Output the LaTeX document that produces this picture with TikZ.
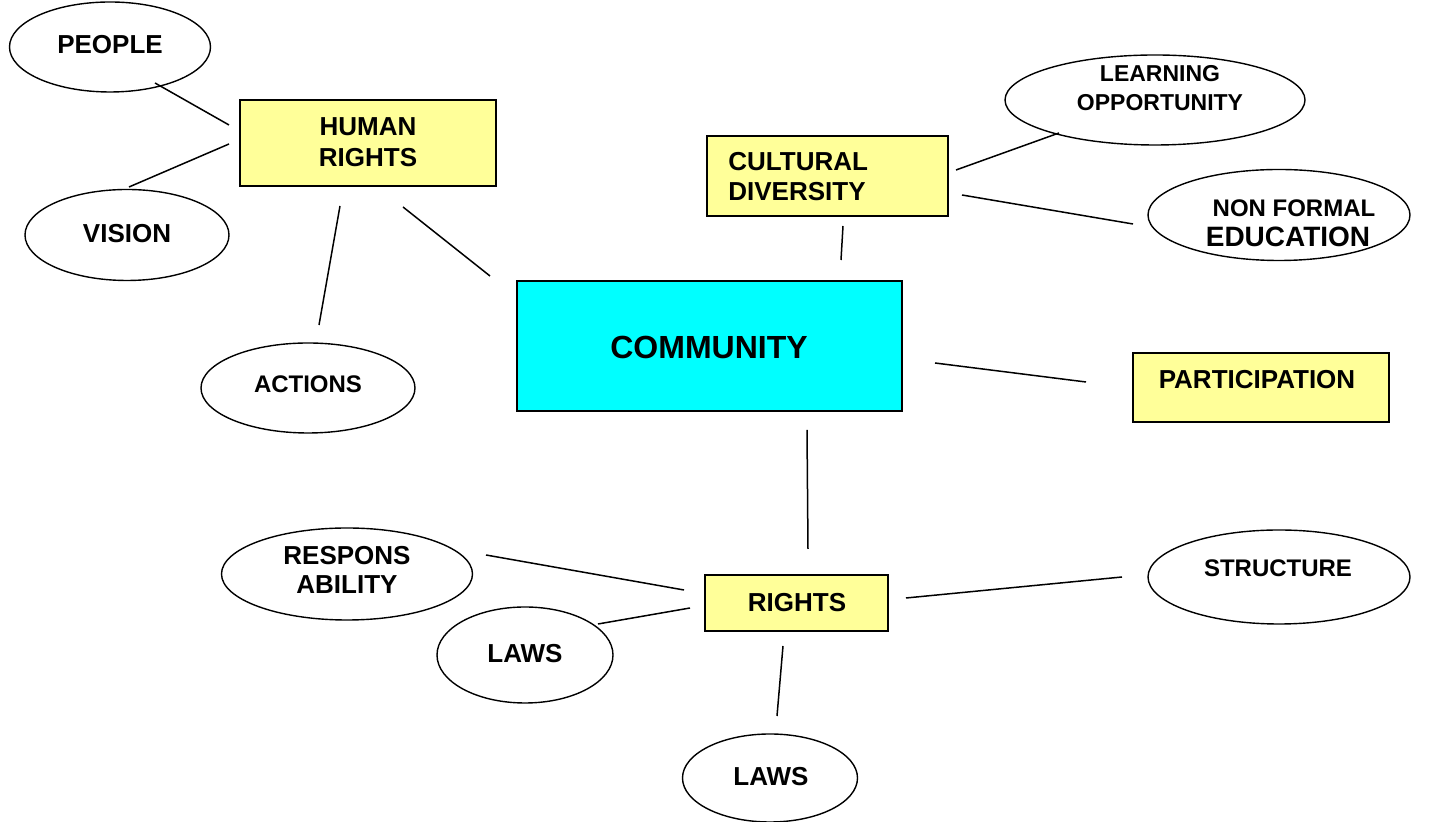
\documentclass[tikz,border=0pt]{standalone}
\usepackage{fontspec}
\setmainfont{Liberation Sans}
\usetikzlibrary{shapes.geometric}
\definecolor{boxyellow}{HTML}{FFFF99}
\definecolor{boxcyan}{HTML}{00FFFF}
\tikzset{
  oval/.style={draw=black, line width=0.7pt, ellipse, inner sep=0pt, outer sep=0pt},
  ybox/.style={draw=black, line width=0.8pt, rectangle, fill=boxyellow, inner sep=0pt, outer sep=0pt},
  cbox/.style={draw=black, line width=0.8pt, rectangle, fill=boxcyan, inner sep=0pt, outer sep=0pt},
  lbl/.style={inner sep=0pt, font=\bfseries\fontsize{13}{15.5}\selectfont, align=center},
  conn/.style={draw=black, line width=0.75pt}
}
\begin{document}
\begin{tikzpicture}[x=0.5pt, y=-0.5pt]
\useasboundingbox (0,0) rectangle (1453,822);
% shapes
\node[oval, minimum width=100.5pt, minimum height=45pt] (people) at (110,47) {};
\node[oval, minimum width=102pt, minimum height=45.5pt] (vision) at (127,235) {};
\node[oval, minimum width=107pt, minimum height=45pt] (actions) at (308,388) {};
\node[oval, minimum width=150pt, minimum height=45pt] (learn) at (1155,100) {};
\node[oval, minimum width=131pt, minimum height=45.5pt] (nonformal) at (1279,215) {};
\node[oval, minimum width=125.5pt, minimum height=46pt] (respons) at (347,574) {};
\node[oval, minimum width=88pt, minimum height=48pt] (lawsa) at (525,655) {};
\node[oval, minimum width=131pt, minimum height=47pt] (structure) at (1279,577) {};
\node[oval, minimum width=87.5pt, minimum height=44pt] (lawsb) at (770,778) {};
\node[ybox, minimum width=128pt, minimum height=43pt] (hr) at (368,143) {};
\node[ybox, minimum width=120.5pt, minimum height=40pt] (cd) at (827.5,176) {};
\node[cbox, minimum width=192.5pt, minimum height=65pt] (comm) at (709.5,346) {};
\node[ybox, minimum width=128pt, minimum height=34.5pt] (part) at (1261,387.5) {};
\node[ybox, minimum width=91.5pt, minimum height=28pt] (rights) at (796.5,603) {};
% texts
\node[lbl] (tpeople) at (110,45) {PEOPLE};
\node[lbl] (tvision) at (127,234) {VISION};
\node[lbl, font=\bfseries\fontsize{12}{14}\selectfont] (tactions) at (308,384) {ACTIONS};
\node[lbl] (thr) at (368,142) {HUMAN\\RIGHTS};
\node[lbl, anchor=west, align=left, font=\bfseries\fontsize{13}{15}\selectfont] (tcd) at (728,177) {CULTURAL\\DIVERSITY};
\node[lbl, font=\bfseries\fontsize{11.5}{14.5}\selectfont] (tlearn) at (1160,88) {LEARNING\\OPPORTUNITY};
\node[lbl, font=\bfseries\fontsize{12}{14}\selectfont] (tnon) at (1294,208) {NON FORMAL};
\node[lbl, font=\bfseries\fontsize{14}{16}\selectfont] (tedu) at (1288,237) {EDUCATION};
\node[lbl, font=\bfseries\fontsize{16}{18}\selectfont] (tcomm) at (709,347) {COMMUNITY};
\node[lbl] (tpart) at (1257,380) {PARTICIPATION};
\node[lbl] (trights) at (797,603) {RIGHTS};
\node[lbl, font=\bfseries\fontsize{13}{14.5}\selectfont] (tresp) at (347,570) {RESPONS\\ABILITY};
\node[lbl] (tlawsa) at (525,654) {LAWS};
\node[lbl] (tlawsb) at (771,777) {LAWS};
\node[lbl, font=\bfseries\fontsize{12}{14}\selectfont] (tstruct) at (1278,568) {STRUCTURE};
% connector end points
\coordinate (c1a) at (155,83);  \coordinate (c1b) at (229,125);
\coordinate (c2a) at (229,144); \coordinate (c2b) at (129,187);
\coordinate (c3a) at (403,207); \coordinate (c3b) at (490,276);
\coordinate (c4a) at (340,206); \coordinate (c4b) at (319,325);
\coordinate (c5a) at (843,226); \coordinate (c5b) at (841,260);
\coordinate (c6a) at (956,170); \coordinate (c6b) at (1059,133);
\coordinate (c7a) at (962,195); \coordinate (c7b) at (1133,224);
\coordinate (c8a) at (935,363); \coordinate (c8b) at (1086,382);
\coordinate (c9a) at (807,430); \coordinate (c9b) at (808,549);
\coordinate (c10a) at (486,555); \coordinate (c10b) at (684,590);
\coordinate (c11a) at (598,624); \coordinate (c11b) at (690,608);
\coordinate (c12a) at (906,598); \coordinate (c12b) at (1122,577);
\coordinate (c13a) at (783,646); \coordinate (c13b) at (777,716);
% connectors
\draw[conn] (c1a) -- (c1b);
\draw[conn] (c2a) -- (c2b);
\draw[conn] (c3a) -- (c3b);
\draw[conn] (c4a) -- (c4b);
\draw[conn] (c5a) -- (c5b);
\draw[conn] (c6a) -- (c6b);
\draw[conn] (c7a) -- (c7b);
\draw[conn] (c8a) -- (c8b);
\draw[conn] (c9a) -- (c9b);
\draw[conn] (c10a) -- (c10b);
\draw[conn] (c11a) -- (c11b);
\draw[conn] (c12a) -- (c12b);
\draw[conn] (c13a) -- (c13b);
\end{tikzpicture}
\end{document}
